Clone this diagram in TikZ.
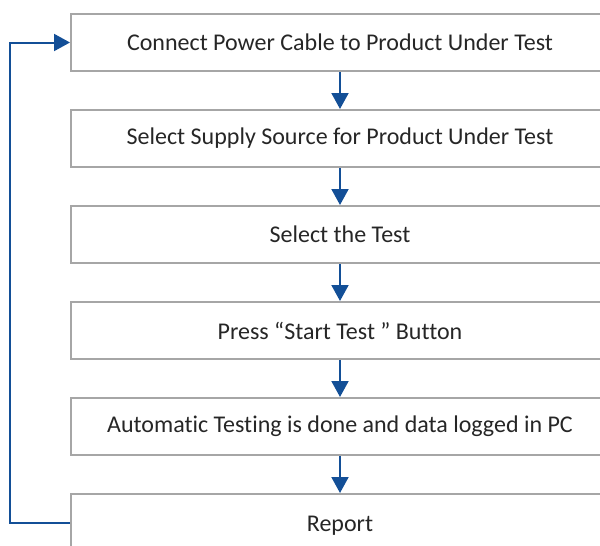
\documentclass[tikz,border=0pt]{standalone}
\usepackage{fontspec}
\setmainfont{Carlito}[Ligatures={NoCommon}]
\usetikzlibrary{arrows.meta}
\begin{document}
\begin{tikzpicture}[x=1pt,y=-1pt,
  stepbox/.style={draw=boxgray, line width=2pt, minimum width=538pt, minimum height=57pt, inner sep=0pt, anchor=north west, font=\fontsize{24}{28}\selectfont, text=textgray},
  flow/.style={draw=flowblue, line width=2pt, -{Triangle[length=16pt,width=17pt]}}]
\definecolor{boxgray}{HTML}{A6A6A6}
\definecolor{flowblue}{HTML}{134F97}
\definecolor{textgray}{HTML}{262626}
\useasboundingbox (0,0) rectangle (600,546);
\clip (0,0) rectangle (600,546);
\node[stepbox] (b1) at (70,13) {Connect Power Cable to Product Under Test};
\node[stepbox] (b2) at (70,109) {Select Supply Source for Product Under Test};
\node[stepbox] (b3) at (70,205) {Select the Test};
\node[stepbox] (b4) at (70,301) {Press “Start Test ” Button};
\node[stepbox] (b5) at (70,397) {Automatic Testing is done and data logged in PC};
\node[stepbox, minimum height=64pt] (b6) at (70,493) {Report};
\draw[flow] (b1.south) -- (b2.north);
\draw[flow] (b2.south) -- (b3.north);
\draw[flow] (b3.south) -- (b4.north);
\draw[flow] (b4.south) -- (b5.north);
\draw[flow] (b5.south) -- (b6.north);
\coordinate (c1) at ([xshift=-60pt,yshift=3pt]b6.west);
\draw[flow] (b6.west |- c1) -- (c1) |- (b1.west);
\end{tikzpicture}
\end{document}
